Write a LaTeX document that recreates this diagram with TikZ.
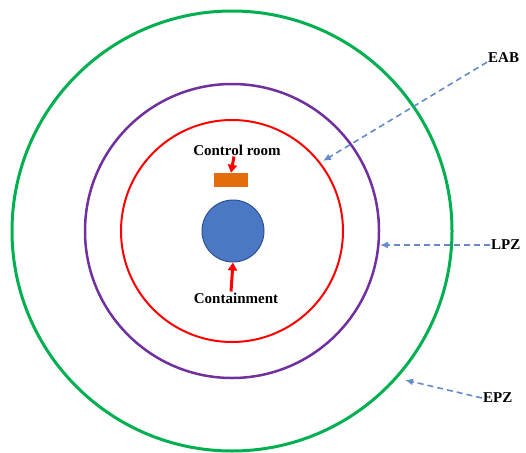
\documentclass[tikz,border=0pt]{standalone}
\usepackage{fontspec}
\setmainfont{Liberation Serif}
\usetikzlibrary{arrows.meta}
\definecolor{zgreen}{RGB}{0,176,80}
\definecolor{zpurple}{RGB}{112,48,160}
\definecolor{zred}{RGB}{255,0,0}
\definecolor{zblue}{RGB}{75,120,196}
\definecolor{zblueedge}{RGB}{47,82,143}
\definecolor{zorange}{RGB}{228,108,10}
\definecolor{zdash}{RGB}{100,140,205}
\tikzset{
  lbl/.style={font=\fontsize{15}{17}\selectfont\bfseries, inner sep=1pt},
  dasharrow/.style={draw=zdash, line width=1.6pt, dash pattern=on 6pt off 4pt, -{Latex[length=8pt,width=7pt]}},
  redarrow/.style={draw=zred, line width=3pt, -{Triangle[length=8pt,width=9pt]}}
}
\begin{document}
\begin{tikzpicture}[x=1pt,y=-1pt]
\useasboundingbox (0,0) rectangle (526,452);
\fill[white] (0,0) rectangle (526,452);
\coordinate (c) at (232,231);
\draw[zgreen, line width=3pt] (c) circle[radius=220];
\draw[zpurple, line width=2.5pt] (c) circle[radius=147];
\draw[zred, line width=2pt] (c) circle[radius=111];
\node[circle, fill=zblue, draw=zblueedge, line width=1pt, minimum size=62pt, inner sep=0pt] (cont) at (233,231) {};
\node[rectangle, fill=zorange, minimum width=34pt, minimum height=14pt, inner sep=0pt] (room) at (231,180) {};
\node[lbl] (troom) at (237,150) {Control room};
\node[lbl] (tcont) at (236,298) {Containment};
\draw[redarrow] (troom.south) ++(-3,0) coordinate (rs) -- (room.north);
\draw[redarrow] (tcont.north) ++(-5,0) coordinate (cs) -- (cont.south);
\node[lbl, anchor=west] (eab) at (487,58) {EAB};
\node[lbl, anchor=west] (lpz) at (490,245) {LPZ};
\node[lbl, anchor=west] (epz) at (482,398) {EPZ};
\coordinate (eabtip) at (323,161);
\coordinate (lpztip) at (380,245);
\coordinate (epztip) at (405,380);
\draw[dasharrow] (eab.south west) ++(0,-2) coordinate (es) -- (eabtip);
\draw[dasharrow] (lpz.west) -- (lpztip);
\draw[dasharrow] (epz.west) -- (epztip);
\end{tikzpicture}
\end{document}
